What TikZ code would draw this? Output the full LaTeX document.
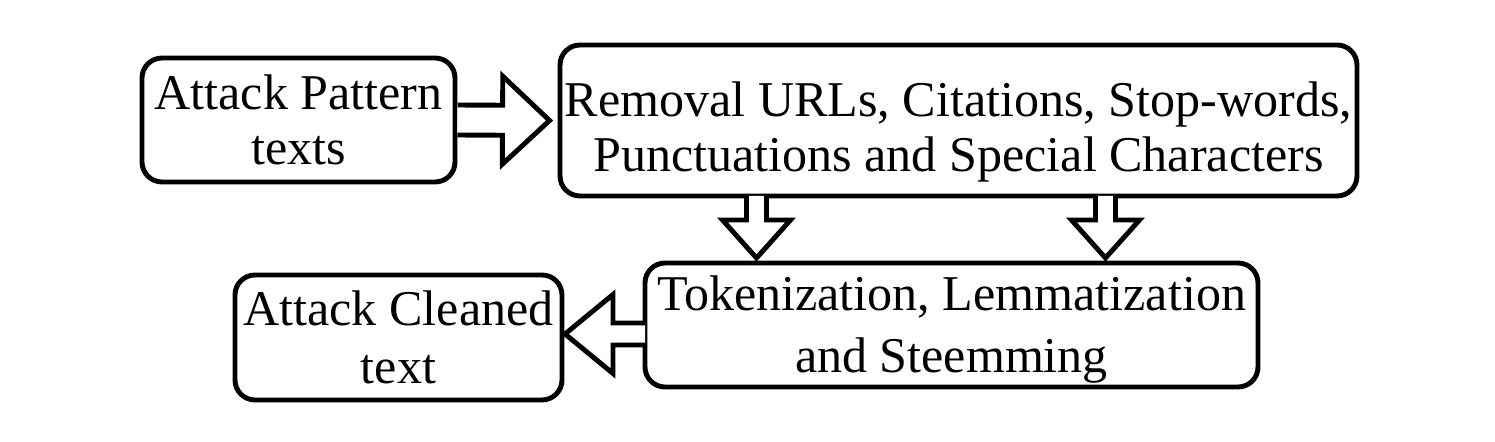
\documentclass[tikz,border=0pt]{standalone}
\usepackage{fontspec}
\setmainfont{Liberation Serif}
\usetikzlibrary{calc}
\tikzset{
  stepbox/.style={draw, line width=2.8pt, rounded corners=0.4cm, align=center, inner sep=0pt,
    font=\fontsize{28.5}{31}\selectfont},
  hollow/.style={draw, line width=2.8pt, fill=white, line join=miter},
}
% hollow block arrow: from, to, shaft half width, head half width, head length
\newcommand{\hollowarrow}[5]{%
  \coordinate (hb) at ($(#2)!#5!(#1)$);
  \draw[hollow] ($(#1)!#3!90:(#2)$) -- ($(hb)!#3!90:(#2)$) -- ($(hb)!#4!90:(#2)$) -- (#2)
    -- ($(hb)!#4!-90:(#2)$) -- ($(hb)!#3!-90:(#2)$) -- ($(#1)!#3!-90:(#2)$);
}
% invisible strut to push a text block down
\newcommand{\topgap}[1]{\rule{0pt}{#1}}

\begin{document}
\begin{tikzpicture}
  \useasboundingbox (0,0) rectangle (29.9,-8.84);
  % boxes
  \node[stepbox, minimum width=6.26cm, minimum height=2.48cm] (pattern) at (5.97,-2.40) {Attack Pattern\\texts};
  \node[stepbox, minimum width=15.94cm, minimum height=3.02cm] (removal) at (19.17,-2.41) {\topgap{33pt}Removal URLs, Citations, Stop-words,\\Punctuations and Special Characters};
  \node[stepbox, minimum width=12.26cm, minimum height=2.48cm] (token) at (19.03,-6.50) {\topgap{25pt}Tokenization, Lemmatization\\[0.16cm]and Steemming};
  \node[stepbox, minimum width=6.54cm, minimum height=2.50cm] (cleaned) at (7.97,-6.75) {Attack Cleaned\\[0.08cm]text};
  % arrow ends
  \coordinate (a1s) at (pattern.east);
  \coordinate (a1t) at ($(removal.west)+(-0.16,0)$);
  \coordinate (d1s) at (15.13,-3.92);
  \coordinate (d1t) at (15.13,-5.16);
  \coordinate (d2s) at (22.11,-3.92);
  \coordinate (d2t) at (22.11,-5.16);
  \coordinate (a2s) at (12.90,-6.68);
  \coordinate (a2t) at (11.30,-6.68);
  % arrows
  \hollowarrow{a1s}{a1t}{0.3cm}{0.88cm}{0.94cm}
  \hollowarrow{d1s}{d1t}{0.2cm}{0.68cm}{0.76cm}
  \hollowarrow{d2s}{d2t}{0.2cm}{0.68cm}{0.76cm}
  \hollowarrow{a2s}{a2t}{0.22cm}{0.79cm}{0.96cm}
\end{tikzpicture}
\end{document}
